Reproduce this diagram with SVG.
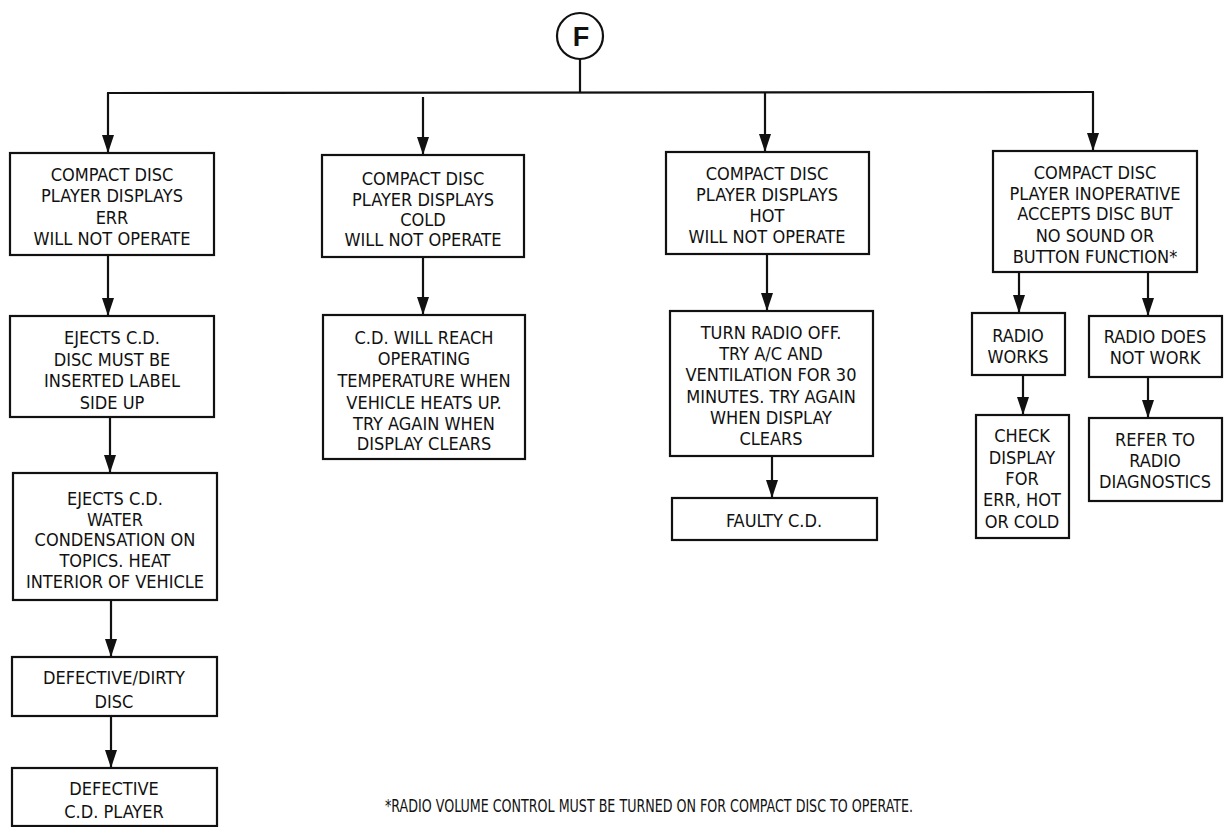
<svg xmlns="http://www.w3.org/2000/svg" width="1225" height="827" viewBox="0 0 1225 827">
<style>
.box{fill:#fff;stroke:#111;stroke-width:2.2}
.ln{fill:none;stroke:#111;stroke-width:2.2}
.t{font-family:"Liberation Sans Narrow","DejaVu Sans Condensed","Liberation Sans",sans-serif;font-size:18px;fill:#111;text-anchor:middle}
.fn{font-family:"Liberation Sans Narrow","DejaVu Sans Condensed","Liberation Sans",sans-serif;font-size:18.5px;fill:#111}
.f{font-family:"Liberation Sans","DejaVu Sans",sans-serif;font-weight:bold;font-size:27px;fill:#111;text-anchor:middle}
</style>
<defs>
<marker id="ah" markerUnits="userSpaceOnUse" markerWidth="18" markerHeight="12" refX="18" refY="6" orient="auto">
<path d="M0,0 L18,6 L0,12 Z" fill="#111"/>
</marker>
</defs>
<rect width="1225" height="827" fill="#fff"/>
<g id="connectors">
<line class="ln" x1="580" y1="59" x2="580" y2="93"/>
<line class="ln" x1="107" y1="93" x2="1094" y2="92"/>
<line class="ln" x1="108" y1="93" x2="108" y2="153" marker-end="url(#ah)"/>
<line class="ln" x1="423" y1="97" x2="423" y2="155" marker-end="url(#ah)"/>
<line class="ln" x1="765" y1="93" x2="765" y2="152" marker-end="url(#ah)"/>
<line class="ln" x1="1093" y1="92" x2="1093" y2="151" marker-end="url(#ah)"/>
<line class="ln" x1="108" y1="255" x2="108" y2="316" marker-end="url(#ah)"/>
<line class="ln" x1="110" y1="417" x2="110" y2="473" marker-end="url(#ah)"/>
<line class="ln" x1="111" y1="600" x2="111" y2="657" marker-end="url(#ah)"/>
<line class="ln" x1="111" y1="716" x2="111" y2="768" marker-end="url(#ah)"/>
<line class="ln" x1="423" y1="257" x2="423" y2="315" marker-end="url(#ah)"/>
<line class="ln" x1="767" y1="254" x2="767" y2="311" marker-end="url(#ah)"/>
<line class="ln" x1="772" y1="456" x2="772" y2="498" marker-end="url(#ah)"/>
<line class="ln" x1="1019" y1="272" x2="1019" y2="313" marker-end="url(#ah)"/>
<line class="ln" x1="1148" y1="272" x2="1148" y2="316" marker-end="url(#ah)"/>
<line class="ln" x1="1023" y1="375" x2="1023" y2="415" marker-end="url(#ah)"/>
<line class="ln" x1="1148" y1="377" x2="1148" y2="418" marker-end="url(#ah)"/>
</g>
<g id="nodeF">
<circle cx="580" cy="36" r="23" fill="#fff" stroke="#111" stroke-width="2.2"/>
<text class="f" x="581" y="46">F</text>
</g>
<g id="err">
<rect class="box" x="10" y="153" width="204" height="102"/>
<text class="t" x="112" y="181">COMPACT DISC</text>
<text class="t" x="112" y="202">PLAYER DISPLAYS</text>
<text class="t" x="112" y="224">ERR</text>
<text class="t" x="112" y="245">WILL NOT OPERATE</text>
</g>
<g id="cold">
<rect class="box" x="322" y="155" width="202" height="102"/>
<text class="t" x="423" y="185">COMPACT DISC</text>
<text class="t" x="423" y="206">PLAYER DISPLAYS</text>
<text class="t" x="423" y="226">COLD</text>
<text class="t" x="423" y="246">WILL NOT OPERATE</text>
</g>
<g id="hot">
<rect class="box" x="666" y="152" width="203" height="102"/>
<text class="t" x="767" y="180">COMPACT DISC</text>
<text class="t" x="767" y="201">PLAYER DISPLAYS</text>
<text class="t" x="767" y="222">HOT</text>
<text class="t" x="767" y="243">WILL NOT OPERATE</text>
</g>
<g id="inop">
<rect class="box" x="993" y="151" width="204" height="121"/>
<text class="t" x="1095" y="179">COMPACT DISC</text>
<text class="t" x="1095" y="200">PLAYER INOPERATIVE</text>
<text class="t" x="1095" y="220">ACCEPTS DISC BUT</text>
<text class="t" x="1095" y="242">NO SOUND OR</text>
<text class="t" x="1095" y="263">BUTTON FUNCTION*</text>
</g>
<g id="ejects1">
<rect class="box" x="10" y="316" width="204" height="101"/>
<text class="t" x="112" y="344">EJECTS C.D.</text>
<text class="t" x="112" y="366">DISC MUST BE</text>
<text class="t" x="112" y="387">INSERTED LABEL</text>
<text class="t" x="112" y="409">SIDE UP</text>
</g>
<g id="ejects2">
<rect class="box" x="13" y="473" width="204" height="127"/>
<text class="t" x="115" y="505">EJECTS C.D.</text>
<text class="t" x="115" y="526">WATER</text>
<text class="t" x="115" y="546">CONDENSATION ON</text>
<text class="t" x="115" y="567">TOPICS. HEAT</text>
<text class="t" x="115" y="588">INTERIOR OF VEHICLE</text>
</g>
<g id="dirty">
<rect class="box" x="12" y="657" width="205" height="59"/>
<text class="t" x="114" y="684">DEFECTIVE/DIRTY</text>
<text class="t" x="114" y="708">DISC</text>
</g>
<g id="defplayer">
<rect class="box" x="12" y="768" width="205" height="58"/>
<text class="t" x="114" y="795">DEFECTIVE</text>
<text class="t" x="114" y="818">C.D. PLAYER</text>
</g>
<g id="reach">
<rect class="box" x="323" y="315" width="202" height="144"/>
<text class="t" x="424" y="344">C.D. WILL REACH</text>
<text class="t" x="424" y="365">OPERATING</text>
<text class="t" x="424" y="387">TEMPERATURE WHEN</text>
<text class="t" x="424" y="409">VEHICLE HEATS UP.</text>
<text class="t" x="424" y="430">TRY AGAIN WHEN</text>
<text class="t" x="424" y="450">DISPLAY CLEARS</text>
</g>
<g id="turnoff">
<rect class="box" x="670" y="311" width="203" height="145"/>
<text class="t" x="771" y="339">TURN RADIO OFF.</text>
<text class="t" x="771" y="360">TRY A/C AND</text>
<text class="t" x="771" y="381">VENTILATION FOR 30</text>
<text class="t" x="771" y="403">MINUTES. TRY AGAIN</text>
<text class="t" x="771" y="424">WHEN DISPLAY</text>
<text class="t" x="771" y="445">CLEARS</text>
</g>
<g id="faulty">
<rect class="box" x="672" y="498" width="205" height="42"/>
<text class="t" x="774" y="527">FAULTY C.D.</text>
</g>
<g id="radioworks">
<rect class="box" x="972" y="313" width="93" height="62"/>
<text class="t" x="1018" y="342">RADIO</text>
<text class="t" x="1018" y="363">WORKS</text>
</g>
<g id="radionot">
<rect class="box" x="1089" y="316" width="133" height="61"/>
<text class="t" x="1155" y="343">RADIO DOES</text>
<text class="t" x="1155" y="364">NOT WORK</text>
</g>
<g id="check">
<rect class="box" x="976" y="415" width="93" height="123"/>
<text class="t" x="1022" y="442">CHECK</text>
<text class="t" x="1022" y="464">DISPLAY</text>
<text class="t" x="1022" y="485">FOR</text>
<text class="t" x="1022" y="506">ERR, HOT</text>
<text class="t" x="1022" y="528">OR COLD</text>
</g>
<g id="refer">
<rect class="box" x="1089" y="418" width="133" height="83"/>
<text class="t" x="1155" y="446">REFER TO</text>
<text class="t" x="1155" y="467">RADIO</text>
<text class="t" x="1155" y="488">DIAGNOSTICS</text>
</g>
<g id="footnote">
<text class="fn" x="385" y="812" textLength="528" lengthAdjust="spacingAndGlyphs">*RADIO VOLUME CONTROL MUST BE TURNED ON FOR COMPACT DISC TO OPERATE.</text>
</g>
</svg>
